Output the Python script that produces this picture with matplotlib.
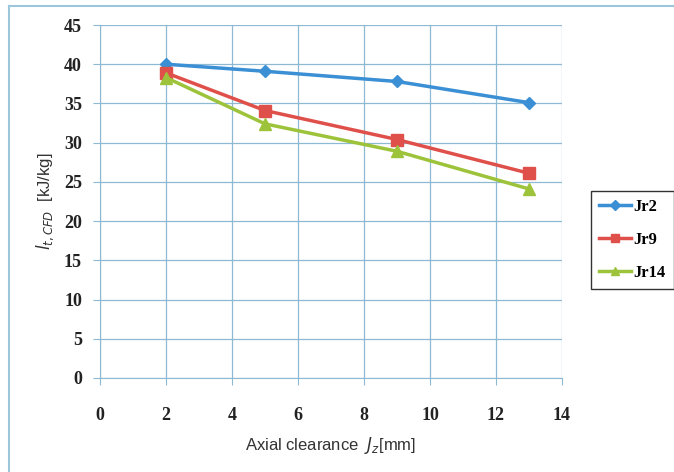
import matplotlib.pyplot as plt
from matplotlib.lines import Line2D

# axial clearance [mm] and stage work for each rotor
clearance = [2, 5, 9, 13]
jr2 = [40.0, 39.1, 37.8, 35.1]
jr9 = [38.9, 34.1, 30.4, 26.1]
jr14 = [38.3, 32.4, 28.9, 24.1]

series = [("Jr2", jr2, "#3b8fd4", "D", 6),
          ("Jr9", jr9, "#e0504a", "s", 8),
          ("Jr14", jr14, "#9dc33b", "^", 8)]

GRID = "#8db9d3"
tick_font = dict(family="Liberation Serif", fontweight="bold", fontsize=13)

fig = plt.figure(figsize=(6.74, 4.72), dpi=100, facecolor="white")
ax = fig.add_axes([100 / 674, 1 - 378 / 472, 462 / 674, 353 / 472])

for name, vals, col, mk, ms in series:
    ax.plot(clearance, vals, color=col, lw=2.5, marker=mk, ms=ms,
            label=name, zorder=3)

ax.set_xlim(0, 14)
ax.set_ylim(0, 45)
ax.set_xticks(range(0, 15, 2))
ax.set_yticks(range(0, 46, 5))
ax.grid(True, color=GRID, lw=0.9)
ax.set_axisbelow(True)
for s in ["top", "right"]:
    ax.spines[s].set_visible(False)
for s in ["left", "bottom"]:
    ax.spines[s].set_color(GRID)
ax.tick_params(colors=GRID, length=5, direction="out", pad=16)
for lbl in ax.get_xticklabels() + ax.get_yticklabels():
    lbl.set(color="#222222", **tick_font)
ax.tick_params(axis="y", pad=8)

ax.set_xlabel(r"Axial clearance  $J_z$[mm]", fontsize=12,
              family="Liberation Sans", color="#333333", labelpad=8)
ax.set_ylabel(r"$l_{t,CFD}$  [kJ/kg]", fontsize=12,
              family="Liberation Sans", color="#333333", labelpad=6)

# legend box, its right side running off the edge
handles = [Line2D([], [], color=c, lw=2.5, marker=m, ms=ms * 0.8)
           for _, _, c, m, ms in series]
leg = fig.legend(handles, [s[0] for s in series],
                 loc="upper left", bbox_to_anchor=(591 / 674, 1 - 191 / 472),
                 frameon=True, fancybox=False, handlelength=1.9,
                 handletextpad=0.15, labelspacing=1.0, borderpad=0.5,
                 borderaxespad=0,
                 prop=dict(family="Liberation Serif", weight="bold", size=12))
leg.get_frame().set_edgecolor("black")
leg.get_frame().set_linewidth(1.0)

# outer chart frame
fig.add_artist(Line2D([9 / 674, 1], [1 - 6 / 472] * 2, color="#9cc6dc",
                      lw=1.5, transform=fig.transFigure))
fig.add_artist(Line2D([9 / 674] * 2, [1 - 6 / 472, 0], color="#9cc6dc",
                      lw=1.5, transform=fig.transFigure))

fig.savefig("out.png", dpi=100, facecolor="white")
